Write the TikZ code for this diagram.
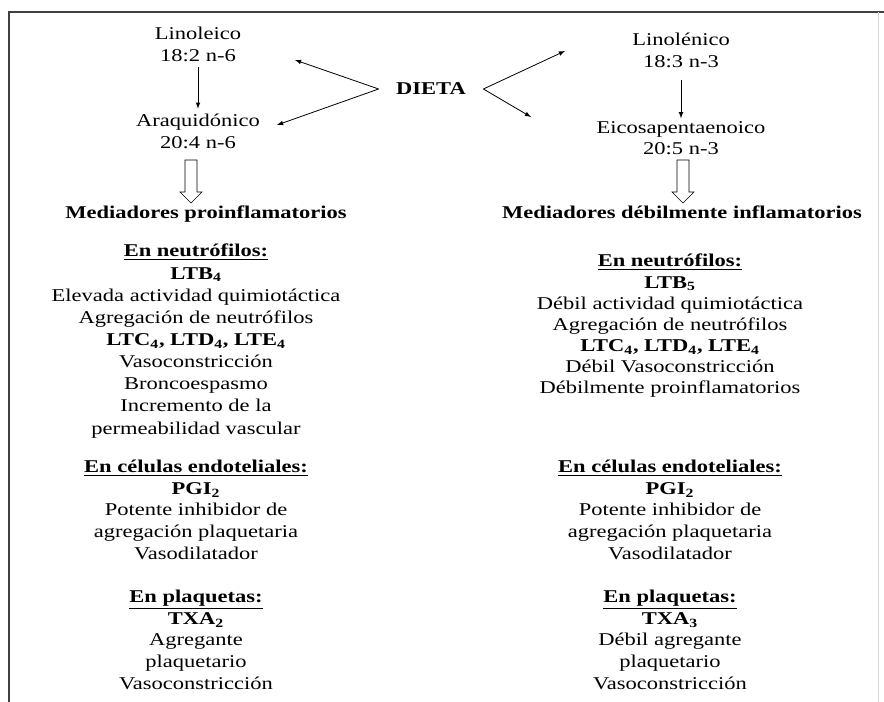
\documentclass[tikz,border=0pt]{standalone}
\usepackage{fontspec}
\setmainfont{Liberation Serif}[FakeStretch=1.25]
\usetikzlibrary{positioning}

\begin{document}
\begin{tikzpicture}[x=0.75pt, y=-0.75pt, >=latex,
    txt/.style={align=center, inner sep=0pt, font=\fontsize{13.5}{16.2}\selectfont},
    fatarrow/.style={draw, thin, fill=white}]
    % 1. Marco
    \useasboundingbox (0,0) rectangle (884,702);
    \draw[line width=1.5pt, black!75] (9,702) -- (9,12) -- (884,12);
    \draw[black!15] (878,12) -- (878,702);

    % 2. Dieta y acidos grasos
    \node[txt, inner xsep=13pt] (dieta) at (431,89) {\textbf{DIETA}};
    \node[txt, anchor=north] (lino) at (198,27) {Linoleico\\18:2 n-6};
    \node[txt, anchor=north] (ara) at (198,114) {Araquidónico\\20:4 n-6};
    \node[txt, anchor=north] (linol) at (681,33) {Linolénico\\18:3 n-3};
    \node[txt, anchor=north] (eico) at (681,121) {Eicosapentaenoico\\20:5 n-3};

    \coordinate (pLino) at (295,60);
    \coordinate (pAra) at (277,125);
    \coordinate (pLinol) at (565,51);
    \coordinate (pEico) at (531,117);

    \draw[->, semithick] (dieta.west) -- (pLino);
    \draw[->, semithick] (dieta.west) -- (pAra);
    \draw[->, semithick] (dieta.east) -- (pLinol);
    \draw[->, semithick] (dieta.east) -- (pEico);
    \draw[->, semithick, shorten <=4pt, shorten >=4pt] (lino) -- (ara);
    \draw[->, semithick, shorten <=9pt, shorten >=2pt] (linol) -- (eico);

    % 3. Flechas huecas y mediadores
    \coordinate (fatL) at (191,160);
    \coordinate (fatR) at (683,160);
    \foreach \c in {fatL, fatR}
        \draw[fatarrow] (\c) ++(-6,0) -- ++(12,0) -- ++(0,32) -- ++(5,0)
            -- ++(-11,11) -- ++(-11,-11) -- ++(5,0) -- cycle;
    \node[txt, anchor=north] (medpro) at (206,206) {\textbf{Mediadores proinflamatorios}};
    \node[txt, anchor=north] (medinf) at (682,206) {\textbf{Mediadores débilmente inflamatorios}};

    % 4. Columna izquierda (n-6)
    \node[txt, anchor=north, font=\fontsize{13.5}{16.6}\selectfont] (neuL) at (196,244) {%
        \underline{\textbf{En neutrófilos:}}\\
        \textbf{LTB\textsubscript{4}}\\
        Elevada actividad quimiotáctica\\
        Agregación de neutrófilos\\
        \textbf{LTC\textsubscript{4}, LTD\textsubscript{4}, LTE\textsubscript{4}}\\
        Vasoconstricción\\
        Broncoespasmo\\
        Incremento de la\\
        permeabilidad vascular};
    \node[txt, anchor=north] (endL) at (196,460) {%
        \underline{\textbf{En células endoteliales:}}\\
        \textbf{PGI\textsubscript{2}}\\
        Potente inhibidor de\\
        agregación plaquetaria\\
        Vasodilatador};
    \node[txt, anchor=north] (plaL) at (196,590) {%
        \underline{\textbf{En plaquetas:}}\\
        \textbf{TXA\textsubscript{2}}\\
        Agregante\\
        plaquetario\\
        Vasoconstricción};

    % 5. Columna derecha (n-3)
    \node[txt, anchor=north, font=\fontsize{13.5}{15.8}\selectfont] (neuR) at (670,254) {%
        \underline{\textbf{En neutrófilos:}}\\
        \textbf{LTB\textsubscript{5}}\\
        Débil actividad quimiotáctica\\
        Agregación de neutrófilos\\
        \textbf{LTC\textsubscript{4}, LTD\textsubscript{4}, LTE\textsubscript{4}}\\
        Débil Vasoconstricción\\
        Débilmente proinflamatorios};
    \node[txt, anchor=north] (endR) at (670,460) {%
        \underline{\textbf{En células endoteliales:}}\\
        \textbf{PGI\textsubscript{2}}\\
        Potente inhibidor de\\
        agregación plaquetaria\\
        Vasodilatador};
    \node[txt, anchor=north] (plaR) at (670,590) {%
        \underline{\textbf{En plaquetas:}}\\
        \textbf{TXA\textsubscript{3}}\\
        Débil agregante\\
        plaquetario\\
        Vasoconstricción};
\end{tikzpicture}
\end{document}
